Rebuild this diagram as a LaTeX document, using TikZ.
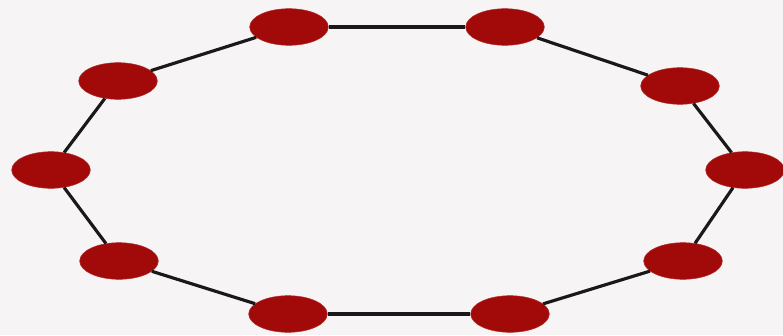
\documentclass[tikz,border=0pt]{standalone}
\usepackage{tikz}
\usetikzlibrary{shapes.geometric}
\definecolor{beadred}{RGB}{162,10,10}
\definecolor{paper}{RGB}{247,244,245}

\begin{document}
\begin{tikzpicture}[x=0.03cm, y=-0.03cm,
    bead/.style={ellipse, fill=beadred, draw=beadred!85!white, minimum width=2.36cm, minimum height=1.1cm, inner sep=0pt},
    link/.style={line width=2.7pt, black!90}]
    \fill[paper] (0,0) rectangle (783,335);
    \useasboundingbox (0,0) rectangle (783,335);

    \foreach \n/\x/\y in {1/289/27, 2/505/27, 3/680/86, 4/745/170, 5/683/261,
                          6/510/314, 7/288/314, 8/119/261, 9/51/170, 10/118/81}
        \node[bead] (v\n) at (\x,\y) {};

    \foreach \a/\b in {1/2, 2/3, 3/4, 4/5, 5/6, 6/7, 7/8, 8/9, 9/10, 10/1}
        \draw[link] (v\a) -- (v\b);
\end{tikzpicture}
\end{document}
